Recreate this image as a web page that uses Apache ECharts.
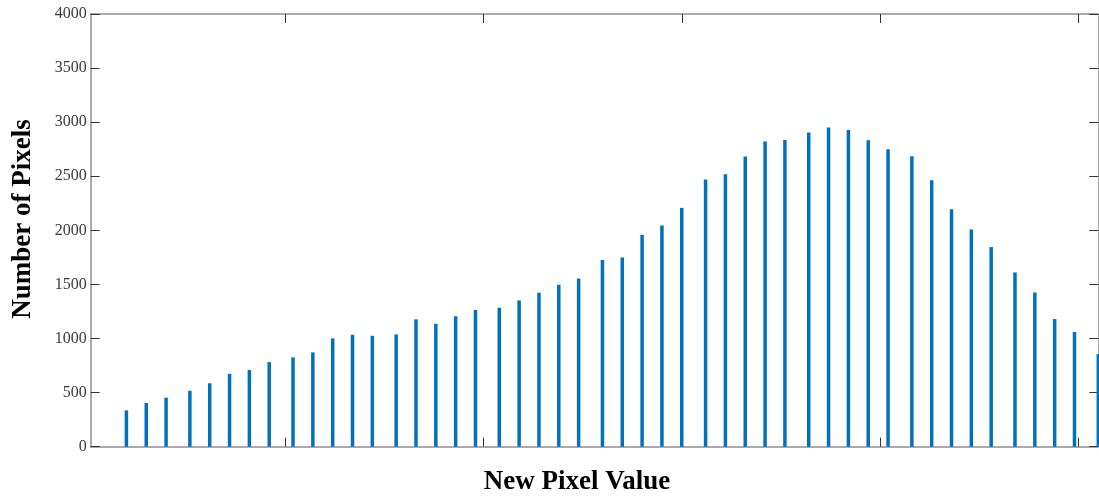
<!DOCTYPE html>
<html>
<head>
<meta charset="utf-8">
<script src="https://cdn.jsdelivr.net/npm/echarts@6/dist/echarts.min.js"></script>
<style>
html,body{margin:0;padding:0;background:#fff;}
#c{width:1099px;height:497px;}
</style>
</head>
<body>
<div id="c"></div>
<script>
// Data
var pixelValues = [10,15,20,26,31,36,41,46,52,57,62,67,72,78,83,88,93,98,104,109,114,119,124,130,135,140,145,150,156,161,166,171,176,182,187,192,197,202,208,213,218,223,228,234,239,244,249,255];
var pixelCounts = [336,404,453,517,586,674,709,782,826,872,1001,1035,1025,1038,1177,1136,1205,1263,1284,1352,1423,1497,1556,1725,1750,1959,2045,2208,2470,2519,2683,2821,2836,2904,2951,2928,2833,2750,2685,2464,2196,2008,1845,1611,1426,1180,1060,856];
var xTickValues = [50,100,150,200,250];
var yTickLabels = ['0','500','1000','1500','2000','2500','3000','3500','4000'];
var xTitle = 'New Pixel Value';
var yTitle = 'Number of Pixels';

var seriesData = pixelValues.map(function(v,i){ return [v, pixelCounts[i]]; });

var chart = echarts.init(document.getElementById('c'), null, {renderer:'canvas'});
var axisLineStyle = {color:'#8f8f8f', width:1.5};
var tickStyle = {color:'#333', width:1};
var option = {
  animation:false,
  backgroundColor:'#fff',
  grid:{left:90.7, right:0.7, top:14, bottom:50.3, containLabel:false},
  xAxis:[{
    type:'value', min:1, max:255, position:'bottom',
    axisLine:{show:true, onZero:false, lineStyle:axisLineStyle},
    axisTick:{show:true, inside:true, length:9, customValues:xTickValues, lineStyle:tickStyle},
    axisLabel:{show:false},
    splitLine:{show:false}
  },{
    type:'value', min:1, max:255, position:'top',
    axisLine:{show:true, onZero:false, lineStyle:axisLineStyle},
    axisTick:{show:true, inside:true, length:9, customValues:xTickValues, lineStyle:tickStyle},
    axisLabel:{show:false},
    splitLine:{show:false}
  }],
  yAxis:[{
    type:'value', min:0, max:4000, interval:500, position:'left',
    axisLine:{show:true, onZero:false, lineStyle:axisLineStyle},
    axisTick:{show:true, inside:true, length:9, lineStyle:tickStyle},
    axisLabel:{show:true, margin:4, color:'#3a3a3a', fontFamily:'Liberation Serif', fontSize:16,
      formatter:function(v){ var i = Math.round(v/500); return yTickLabels[i]; }},
    splitLine:{show:false}
  },{
    type:'value', min:0, max:4000, interval:500, position:'right',
    axisLine:{show:true, onZero:false, lineStyle:axisLineStyle},
    axisTick:{show:true, inside:true, length:9, lineStyle:tickStyle},
    axisLabel:{show:false},
    splitLine:{show:false}
  }],
  series:[{
    type:'bar',
    xAxisIndex:0, yAxisIndex:0,
    data:seriesData,
    barWidth:3.5,
    itemStyle:{color:'#0072BD'},
    clip:true
  }],
  graphic:[{
    type:'text', x:577, y:482,
    style:{text:xTitle, font:'bold 27px "Liberation Serif"', fill:'#000', align:'center', verticalAlign:'middle'}
  },{
    type:'text',
    rotation:Math.PI/2,
    x:23, y:219,
    style:{text:yTitle, font:'bold 27px "Liberation Serif"', fill:'#000', align:'center', verticalAlign:'middle'}
  }]
};
chart.setOption(option);
</script>
</body>
</html>
